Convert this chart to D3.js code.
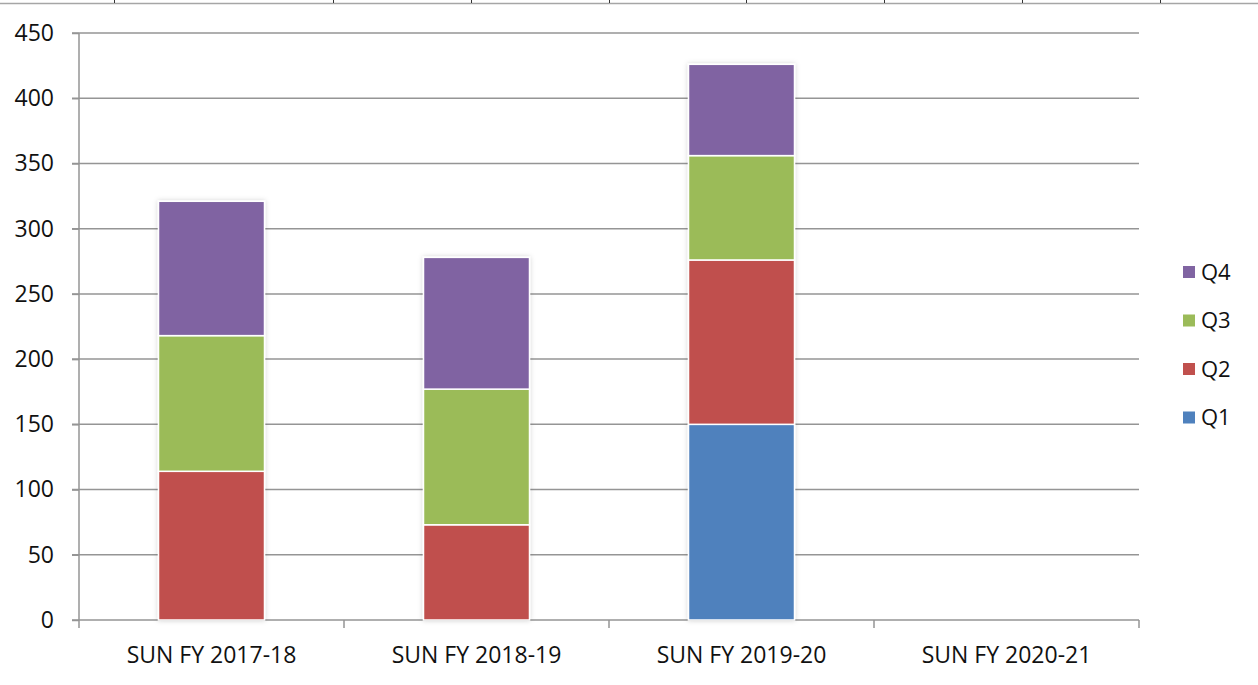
<!DOCTYPE html>
<html>
<head>
<meta charset="utf-8">
<script src="https://cdn.jsdelivr.net/npm/d3@7"></script>
<style>
  body { margin: 0; background: #fff; }
  text { font-family: "Open Sans", "Noto Sans", sans-serif; fill: #111; }
</style>
</head>
<body>
<div id="chart"></div>
<script>
var width = 1258;
var height = 685;

var categories = ["SUN FY 2017-18", "SUN FY 2018-19", "SUN FY 2019-20", "SUN FY 2020-21"];
var quarters = ["Q1", "Q2", "Q3", "Q4"];
var q1 = [0, 0, 150, 0];
var q2 = [114, 73, 126, 0];
var q3 = [104, 104, 80, 0];
var q4 = [103, 101, 70, 0];
var yTicks = [0, 50, 100, 150, 200, 250, 300, 350, 400, 450];
var colors = ["#4F81BD", "#C0504D", "#9BBB59", "#8064A2"];
// cell borders of the sheet above the chart
var cellEdges = [114, 333, 471, 609, 746, 884, 1022, 1160];

var margin = { top: 33, right: 119, bottom: 65, left: 79 };
var chartWidth = width - margin.left - margin.right;
var chartHeight = height - margin.top - margin.bottom;

var svg = d3.select("#chart")
  .append("svg")
  .attr("width", width)
  .attr("height", height);

var defs = svg.append("defs");
var shadow = defs.append("filter").attr("id", "shadow")
  .attr("x", "-20%").attr("y", "-5%").attr("width", "140%").attr("height", "110%");
shadow.append("feDropShadow")
  .attr("dx", 0).attr("dy", 0).attr("stdDeviation", 2.5)
  .attr("flood-color", "#000").attr("flood-opacity", 0.18);

// top sheet border
svg.append("line")
  .attr("x1", 0).attr("x2", width)
  .attr("y1", 3.5).attr("y2", 3.5)
  .attr("stroke", "#a6a6a6").attr("stroke-width", 1.5);
svg.selectAll(".cell")
  .data(cellEdges)
  .enter().append("line")
  .attr("x1", d => d + 0.5).attr("x2", d => d + 0.5)
  .attr("y1", 0).attr("y2", 3)
  .attr("stroke", "#333").attr("stroke-width", 1);

var chartGroup = svg.append("g")
  .attr("transform", `translate(${margin.left}, ${margin.top})`);

var xScale = d3.scaleBand()
  .domain(categories)
  .range([0, chartWidth])
  .paddingInner(0.6)
  .paddingOuter(0.3);

var yScale = d3.scaleLinear()
  .domain([0, 450])
  .range([chartHeight, 0]);

// gridlines
chartGroup.append("g")
  .selectAll("line")
  .data(yTicks.slice(1))
  .enter().append("line")
  .attr("x1", -7).attr("x2", chartWidth)
  .attr("y1", d => yScale(d)).attr("y2", d => yScale(d))
  .attr("stroke", "#959595").attr("stroke-width", 1.5);

var yAxis = d3.axisLeft(yScale).tickValues(yTicks).tickSize(7).tickPadding(18);
var yG = chartGroup.append("g").call(yAxis);
yG.select(".domain").attr("stroke", "#959595").attr("stroke-width", 1.5)
  .attr("d", `M0,0V${chartHeight}`);
yG.selectAll(".tick line").attr("stroke", "#959595").attr("stroke-width", 1.5);
yG.selectAll("text").style("font-size", "23px").attr("fill", "#111");

// x axis
var xG = chartGroup.append("g").attr("transform", `translate(0, ${chartHeight})`);
xG.append("line").attr("x1", -7).attr("x2", chartWidth)
  .attr("stroke", "#959595").attr("stroke-width", 1.5);
var step = chartWidth / categories.length;
xG.selectAll(".xt")
  .data(d3.range(categories.length + 1))
  .enter().append("line")
  .attr("x1", d => d * step).attr("x2", d => d * step)
  .attr("y1", 0).attr("y2", 8)
  .attr("stroke", "#959595").attr("stroke-width", 1.5);
xG.selectAll(".xl")
  .data(categories)
  .enter().append("text")
  .attr("x", d => xScale(d) + xScale.bandwidth() / 2)
  .attr("y", 43)
  .attr("text-anchor", "middle")
  .style("font-size", "23px")
  .text(d => d);

// stacked bars
var rows = categories.map(function(c, i) {
  return { cat: c, Q1: q1[i], Q2: q2[i], Q3: q3[i], Q4: q4[i] };
});
var stack = d3.stack().keys(quarters)(rows);

var layers = chartGroup.append("g").attr("filter", "url(#shadow)")
  .selectAll("g")
  .data(stack)
  .enter().append("g")
  .attr("fill", (d, i) => colors[i]);

layers.selectAll("rect")
  .data(d => d.filter(p => p[1] - p[0] > 0))
  .enter().append("rect")
  .attr("x", d => xScale(d.data.cat))
  .attr("y", d => yScale(d[1]))
  .attr("width", xScale.bandwidth())
  .attr("height", d => yScale(d[0]) - yScale(d[1]))
  .attr("stroke", "#fff")
  .attr("stroke-width", 1.5);

// legend
var legend = svg.append("g").attr("transform", "translate(1183, 0)");
var legendItems = quarters.slice().reverse();
legendItems.forEach(function(q, i) {
  var y = 272 + i * 48.5;
  legend.append("rect")
    .attr("x", 0).attr("y", y - 6)
    .attr("width", 12).attr("height", 12)
    .attr("fill", colors[quarters.indexOf(q)]);
  legend.append("text")
    .attr("x", 18).attr("y", y)
    .attr("dy", "0.35em")
    .style("font-size", "22px")
    .text(q);
});
</script>
</body>
</html>
